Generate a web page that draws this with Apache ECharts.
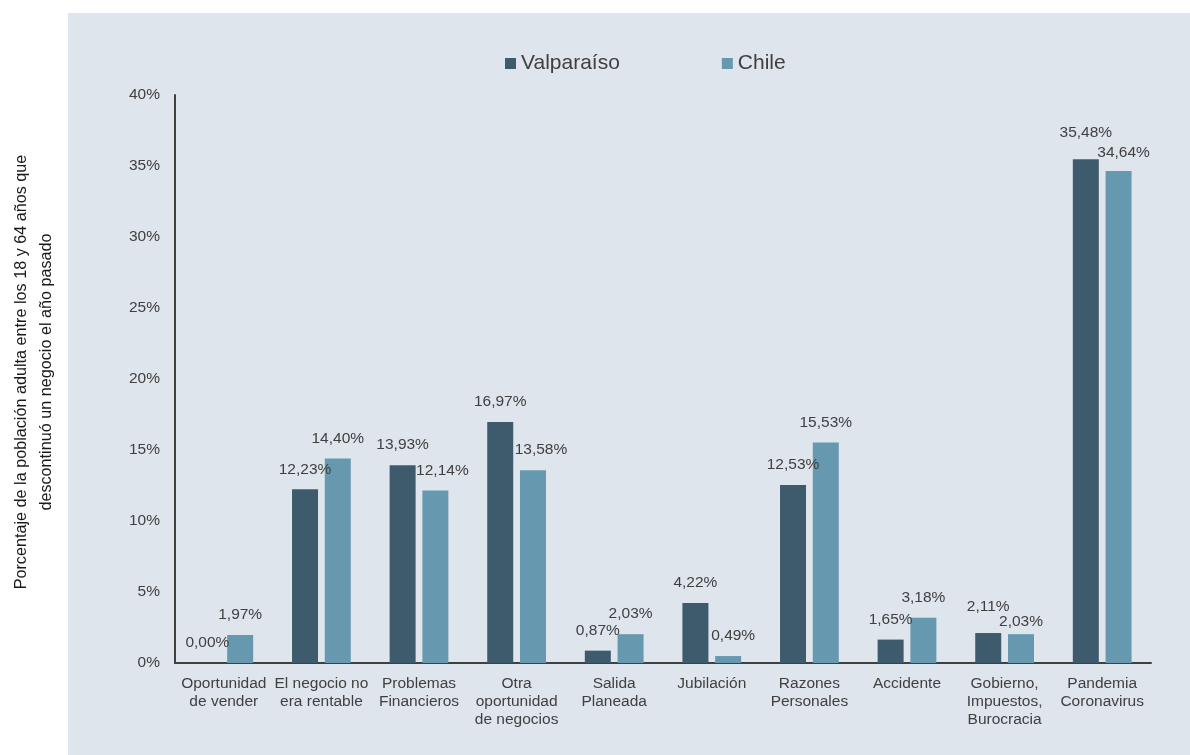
<!DOCTYPE html>
<html>
<head>
<meta charset="utf-8">
<script src="https://cdn.jsdelivr.net/npm/echarts@6/dist/echarts.min.js"></script>
<style>
  html, body { margin: 0; padding: 0; background: #ffffff; }
  #chart { width: 1190px; height: 755px; }
</style>
</head>
<body>
<div id="chart"></div>
<script>
// categorias del eje x
var categorias = ['Oportunidad\nde vender', 'El negocio no\nera rentable', 'Problemas\nFinancieros',
  'Otra\noportunidad\nde negocios', 'Salida\nPlaneada', 'Jubilación', 'Razones\nPersonales',
  'Accidente', 'Gobierno,\nImpuestos,\nBurocracia', 'Pandemia\nCoronavirus'];
var valparaiso = [0.00, 12.23, 13.93, 16.97, 0.87, 4.22, 12.53, 1.65, 2.11, 35.48];
var chile = [1.97, 14.40, 12.14, 13.58, 2.03, 0.49, 15.53, 3.18, 2.03, 34.64];
var yTicks = [0, 5, 10, 15, 20, 25, 30, 35, 40];

// ajustes manuales de etiquetas (como en el original)
var shiftValpo = [[0,0],[0,0],[0,0],[0,0],[0,0],[0,0],[0,0],[0,0],[0,-6],[0,-6]];
var shiftChile = [[0,0],[0,0],[7,0],[8,0],[0,0],[5,0],[0,0],[0,0],[0,8],[5,2]];

var FONT = '"Liberation Sans", Arial, sans-serif';
var TXT = '#404040';

function fmt(v) {
  return v.toFixed(2).replace('.', ',') + '%';
}
function items(vals, shifts) {
  return vals.map(function (v, i) {
    return { value: v, label: { offset: shifts[i] } };
  });
}

var chart = echarts.init(document.getElementById('chart'));
var lbl = {
  show: true,
  position: 'top',
  distance: 12,
  color: TXT,
  fontSize: 15.5,
  fontFamily: FONT,
  formatter: function (p) { return fmt(p.value); }
};

chart.setOption({
  backgroundColor: '#ffffff',
  animation: false,
  graphic: [
    {
      type: 'rect', z: -10, silent: true,
      shape: { x: 68, y: 13, width: 1122, height: 742 },
      style: { fill: '#dfe5ed' }
    },
    {
      type: 'text', x: 34, y: 372, rotation: Math.PI / 2,
      style: {
        text: 'Porcentaje de la población adulta entre los 18 y 64 años que\ndescontinuó un negocio el año pasado',
        fill: '#1a1a1a', font: '16.2px ' + FONT, lineHeight: 25,
        align: 'center', verticalAlign: 'middle'
      }
    }
  ],
  legend: {
    data: ['Valparaíso', 'Chile'],
    left: 505, top: 53, padding: 0,
    icon: 'rect', itemWidth: 11, itemHeight: 11, itemGap: 102,
    textStyle: { color: TXT, fontSize: 21, fontFamily: FONT }
  },
  grid: { left: 175, right: 39, top: 95, bottom: 92, containLabel: false },
  xAxis: {
    type: 'category',
    data: categorias,
    axisLine: { lineStyle: { color: TXT, width: 2 } },
    axisTick: { show: false },
    axisLabel: { interval: 0, color: TXT, fontSize: 15.5, fontFamily: FONT, lineHeight: 18, margin: 12 }
  },
  yAxis: {
    type: 'value',
    min: yTicks[0], max: yTicks[yTicks.length - 1], interval: 5,
    axisLine: { show: true, lineStyle: { color: TXT, width: 2 } },
    axisTick: { show: false },
    splitLine: { show: false },
    axisLabel: { color: TXT, fontSize: 15.5, fontFamily: FONT, margin: 15, formatter: '{value}%' }
  },
  series: [
    {
      name: 'Valparaíso', type: 'bar', barWidth: 26, barGap: '26%',
      itemStyle: { color: '#3e5b6d' },
      label: lbl,
      data: items(valparaiso, shiftValpo)
    },
    {
      name: 'Chile', type: 'bar', barWidth: 26, barGap: '26%',
      itemStyle: { color: '#6699b0' },
      label: lbl,
      data: items(chile, shiftChile)
    }
  ]
});
</script>
</body>
</html>
